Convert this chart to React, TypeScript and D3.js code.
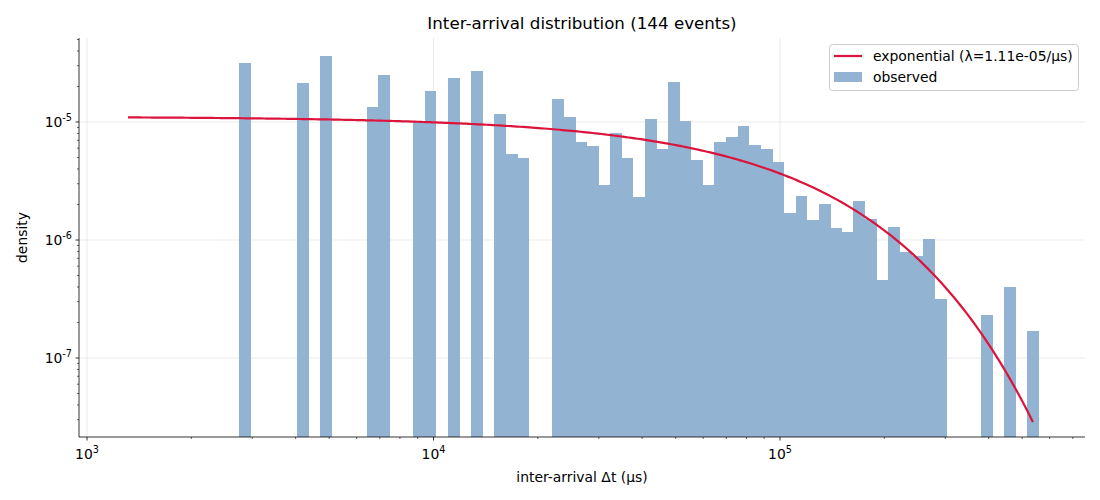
import React from "react";
import * as d3 from "d3";

const nBins = 69;
const binLo = 2746;
const binHi = 559000;
const binIndex = [0,5,7,11,12,15,16,18,20,22,23,24,27,28,29,30,31,32,33,34,35,36,37,38,39,40,41,42,43,44,45,46,47,48,49,50,51,52,53,54,55,56,57,58,59,60,64,66,68];
const density = [3.16e-5,2.14e-5,3.62e-5,1.34e-5,2.5e-5,1.0e-5,1.83e-5,2.36e-5,2.7e-5,1.17e-5,5.36e-6,4.95e-6,1.57e-5,1.1e-5,6.77e-6,6.26e-6,2.92e-6,8.07e-6,4.95e-6,2.32e-6,1.06e-5,5.9e-6,2.18e-5,1.02e-5,4.77e-6,2.92e-6,6.77e-6,7.46e-6,9.25e-6,6.38e-6,5.9e-6,4.59e-6,1.69e-6,2.36e-6,1.48e-6,2.02e-6,1.26e-6,1.17e-6,2.14e-6,1.5e-6,4.6e-7,1.29e-6,7.9e-7,7.3e-7,1.02e-6,3.16e-7,2.32e-7,4.0e-7,1.69e-7];
const lambda = 1.11e-5;
const curveMin = 1313;
const curveMax = 537000;
const xTicks = [1e3, 1e4, 1e5];
const yTicks = [1e-7, 1e-6, 1e-5];

export default function App() {
  const W = 1100, H = 500;
  const L = 79, R = 1085, T = 38, B = 437;
  const x = d3.scaleLog().domain([Math.pow(10, 3 - 8 / 346.5), Math.pow(10, 3 + 998 / 346.5)]).range([L, R]);
  const y = d3.scaleLog().domain([Math.pow(10, -7 - 79 / 118), Math.pow(10, -5 + 84 / 118)]).range([B, T]);
  const lw = (Math.log10(binHi) - Math.log10(binLo)) / nBins;
  const edge = (i: number) => Math.pow(10, Math.log10(binLo) + i * lw);
  const pts = d3.range(0, 301).map(k => {
    const v = Math.pow(10, Math.log10(curveMin) + (k / 300) * (Math.log10(curveMax) - Math.log10(curveMin)));
    return [v, lambda * Math.exp(-lambda * v)] as [number, number];
  });
  const line = d3.line<[number, number]>().x(d => x(d[0])).y(d => y(d[1]));
  const xMinor: number[] = [];
  for (let e = 3; e <= 5; e++) for (let m = 2; m <= 9; m++) { const v = m * Math.pow(10, e); if (x(v) <= R) xMinor.push(v); }
  const yMinor: number[] = [];
  for (let e = -8; e <= -5; e++) for (let m = 2; m <= 9; m++) { const v = m * Math.pow(10, e); if (y(v) >= T && y(v) <= B) yMinor.push(v); }
  const font = "DejaVu Sans";
  const exp = (v: number) => Math.round(Math.log10(v));
  return (
    <svg width={W} height={H} style={{ position: "absolute", left: 0, top: 0 }} fontFamily={font}>
      <rect width={W} height={H} fill="#fff" />
      {xTicks.map(t => <line key={"gx" + t} x1={x(t)} x2={x(t)} y1={T} y2={B} stroke="#e6e6e6" strokeWidth={0.8} />)}
      {yTicks.map(t => <line key={"gy" + t} x1={L} x2={R} y1={y(t)} y2={y(t)} stroke="#e6e6e6" strokeWidth={0.8} />)}
      <g shapeRendering="crispEdges">
        {binIndex.map((b, i) => (
          <rect key={b} x={x(edge(b))} width={x(edge(b + 1)) - x(edge(b)) + 0.3} y={y(density[i])} height={B - y(density[i])} fill="#92b3d1" />
        ))}
      </g>
      <path d={line(pts) || ""} fill="none" stroke="#dc143c" strokeWidth={2.2} />
      <line x1={L} x2={L} y1={T} y2={B} stroke="#000" strokeWidth={0.8} />
      <line x1={L} x2={R} y1={B} y2={B} stroke="#000" strokeWidth={0.8} />
      {xTicks.map(t => (
        <g key={"xt" + t}>
          <line x1={x(t)} x2={x(t)} y1={B} y2={B + 3.5} stroke="#000" strokeWidth={0.8} />
          <text x={x(t)} y={B + 22} fontSize={13.9} textAnchor="middle">10<tspan dy={-6} fontSize={9.7}>{exp(t)}</tspan></text>
        </g>
      ))}
      {xMinor.map(t => <line key={"xm" + t} x1={x(t)} x2={x(t)} y1={B} y2={B + 2} stroke="#000" strokeWidth={0.6} />)}
      {yTicks.map(t => (
        <g key={"yt" + t}>
          <line x1={L - 3.5} x2={L} y1={y(t)} y2={y(t)} stroke="#000" strokeWidth={0.8} />
          <text x={L - 7} y={y(t) + 5} fontSize={13.9} textAnchor="end">10<tspan dy={-6} fontSize={9.7}>{exp(t)}</tspan></text>
        </g>
      ))}
      {yMinor.map(t => <line key={"ym" + t} x1={L - 2} x2={L} y1={y(t)} y2={y(t)} stroke="#000" strokeWidth={0.6} />)}
      <text x={(L + R) / 2} y={29} fontSize={16.7} textAnchor="middle">Inter-arrival distribution (144 events)</text>
      <text x={(L + R) / 2} y={482} fontSize={13.9} textAnchor="middle">inter-arrival Δt (µs)</text>
      <text transform={`translate(27,${(T + B) / 2}) rotate(-90)`} fontSize={13.9} textAnchor="middle">density</text>
      <g>
        <rect x={829.5} y={44.5} width={249} height={46} rx={3} fill="#fff" fillOpacity={0.8} stroke="#ccc" />
        <line x1={834} x2={862} y1={56} y2={56} stroke="#dc143c" strokeWidth={2.2} />
        <text x={873} y={61} fontSize={13.9}>exponential (λ=1.11e-05/µs)</text>
        <rect x={834} y={72} width={28} height={10} fill="#92b3d1" />
        <text x={873} y={82} fontSize={13.9}>observed</text>
      </g>
    </svg>
  );
}
